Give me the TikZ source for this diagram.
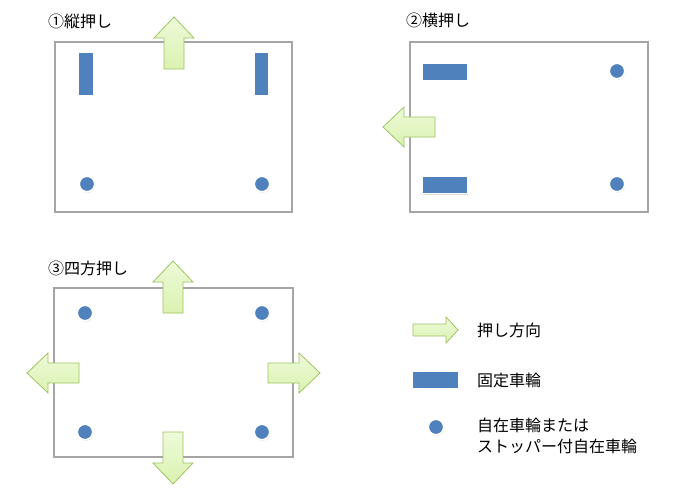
\documentclass[tikz,border=0pt]{standalone}
\usepackage{fontspec}
\setmainfont{Noto Sans CJK JP}
\usetikzlibrary{shadows}

\definecolor{wheelblue}{RGB}{79,129,189}
\definecolor{arrowedge}{RGB}{160,195,95}
\definecolor{arrowlight}{RGB}{238,250,218}
\definecolor{arrowdark}{RGB}{218,242,176}
\definecolor{framegray}{RGB}{165,165,165}

\tikzset{
  frame/.style={draw=framegray, line width=1.3pt},
  wheel/.style={fill=wheelblue, draw=white, line width=1.6pt, inner sep=0pt,
    drop shadow={shadow xshift=0.6pt, shadow yshift=-1pt, opacity=0.3}},
  fixedv/.style={wheel, rectangle, minimum width=15, minimum height=43},
  fixedh/.style={wheel, rectangle, minimum width=45, minimum height=17},
  caster/.style={wheel, circle, minimum size=15.5},
  pushfill/.style={draw=arrowedge, line width=0.8pt, line join=miter,
    top color=arrowlight, bottom color=arrowdark},
  lbl/.style={anchor=west, inner sep=0pt, text=black, align=left,
    font=\fontsize{16}{21}\selectfont}
}

% arrow of push direction: tail centre, angle
\newcommand{\pusharr}[2]{%
  \draw[pushfill, shift={#1}, rotate=#2]
    (0,-10) -- (31,-10) -- (31,-20) -- (52,0) -- (31,20) -- (31,10) -- (0,10) -- cycle;}

\begin{document}
\begin{tikzpicture}[x=1pt, y=-1pt]
  \useasboundingbox (0,0) rectangle (700,500);

  % 1. 縦押し
  \node[lbl] (t1) at (48,21) {①縦押し};
  \draw[frame] (55,42) rectangle (292,212);
  \node[fixedv] (f1a) at (86,74) {};
  \node[fixedv] (f1b) at (261.5,74) {};
  \node[caster] (c1a) at (87,184) {};
  \node[caster] (c1b) at (262,184) {};
  \pusharr{(174,69)}{90}

  % 2. 横押し
  \node[lbl] (t2) at (406,20) {②横押し};
  \draw[frame] (410,42) rectangle (648,212);
  \node[fixedh] (f2a) at (445,72) {};
  \node[fixedh] (f2b) at (445,185) {};
  \node[caster] (c2a) at (617,71) {};
  \node[caster] (c2b) at (617,184) {};
  \pusharr{(435,127)}{180}

  % 3. 四方押し
  \node[lbl] (t3) at (48,268) {③四方押し};
  \draw[frame] (54,288) rectangle (293,457);
  \node[caster] (c3a) at (85,313) {};
  \node[caster] (c3b) at (262,313) {};
  \node[caster] (c3c) at (85,432) {};
  \node[caster] (c3d) at (262,432) {};
  \pusharr{(173,313)}{90}
  \pusharr{(173,432)}{-90}
  \pusharr{(79,373)}{180}
  \pusharr{(268,373)}{0}

  % 凡例
  \draw[pushfill, shift={(413,330)}]
    (0,-6) -- (33,-6) -- (33,-13) -- (45,0) -- (33,13) -- (33,6) -- (0,6) -- cycle;
  \node[lbl] (k1) at (477,330) {押し方向};
  \node[wheel, rectangle, minimum width=46, minimum height=18] (kf) at (435.5,380) {};
  \node[lbl] (k2) at (477,380) {固定車輪};
  \node[caster] (kc) at (436,427) {};
  \node[lbl, anchor=north west] (k3) at (477,418) {自在車輪または\\ストッパー付自在車輪};
\end{tikzpicture}
\end{document}
